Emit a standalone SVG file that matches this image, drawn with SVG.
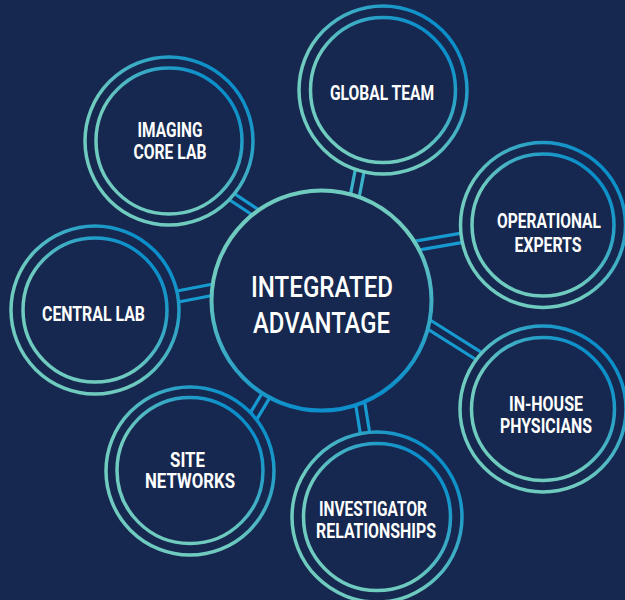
<svg xmlns="http://www.w3.org/2000/svg" width="625" height="600" viewBox="0 0 625 600">
  <defs>
    <linearGradient id="gSat" x1="0" y1="1" x2="1" y2="0">
      <stop offset="0.4" stop-color="#6fcbbf"/>
      <stop offset="0.85" stop-color="#0b8fca"/>
    </linearGradient>
    <linearGradient id="gMain" x1="0.4" y1="0" x2="0.6" y2="1">
      <stop offset="0.3" stop-color="#6fcbbf"/>
      <stop offset="0.95" stop-color="#0d8fcb"/>
    </linearGradient>
    <style>
      .ring { fill: #16284f; stroke: url(#gSat); stroke-width: 3.5; }
      .inner { fill: none; stroke: url(#gSat); stroke-width: 3.5; }
      .main { fill: #16284f; stroke: url(#gMain); stroke-width: 4; }
      .conn line { stroke: #169ad0; stroke-width: 3.2; }
      .lbl { font-family: Roboto, "Liberation Sans", sans-serif; font-weight: bold; font-size: 21px; fill: #ffffff; text-anchor: middle; }
      .big { font-family: Roboto, "Liberation Sans", sans-serif; font-weight: 500; font-size: 30px; fill: #ffffff; text-anchor: middle; }
    </style>
  </defs>
  <rect x="0" y="0" width="625" height="600" fill="#16284f"/>

  <g id="connectors" class="conn">
    <line x1="228.9" y1="190" x2="262.1" y2="212"/>
    <line x1="224.4" y1="196.5" x2="257.6" y2="218.5"/>
    <line x1="356.7" y1="162.4" x2="349.1" y2="201.6" style="stroke:#3ab3ca"/>
    <line x1="365.8" y1="162.9" x2="358.2" y2="202.1" style="stroke:#3ab3ca"/>
    <line x1="409.4" y1="242.1" x2="468.6" y2="231.9"/>
    <line x1="412.4" y1="251.1" x2="471.6" y2="240.9"/>
    <line x1="427.8" y1="318.5" x2="487" y2="355.9"/>
    <line x1="423" y1="326.1" x2="482.2" y2="363.5"/>
    <line x1="354.8" y1="399.5" x2="361.2" y2="438.9"/>
    <line x1="364" y1="397.8" x2="370.4" y2="437.2"/>
    <line x1="266.4" y1="386.2" x2="243.6" y2="423.8"/>
    <line x1="274.4" y1="390.2" x2="251.6" y2="427.8"/>
    <line x1="167.9" y1="292.8" x2="217.1" y2="283.3"/>
    <line x1="169.4" y1="303.8" x2="218.6" y2="294.3"/>
  </g>

  <g id="center">
    <circle class="main" cx="321.5" cy="300.5" r="110"/>
    <text class="big" x="322" y="297" textLength="142" lengthAdjust="spacingAndGlyphs">INTEGRATED</text>
    <text class="big" x="321.5" y="333" textLength="137" lengthAdjust="spacingAndGlyphs">ADVANTAGE</text>
  </g>

  <g id="global-team">
    <circle class="ring" cx="383" cy="90" r="84"/>
    <circle class="inner" cx="383" cy="90" r="72.5"/>
    <text class="lbl" x="382" y="100" textLength="104" lengthAdjust="spacingAndGlyphs">GLOBAL TEAM</text>
  </g>

  <g id="imaging-core-lab">
    <circle class="ring" cx="169" cy="141" r="84"/>
    <circle class="inner" cx="169" cy="141" r="73"/>
    <text class="lbl" x="170" y="137" textLength="65" lengthAdjust="spacingAndGlyphs">IMAGING</text>
    <text class="lbl" x="170" y="159" textLength="73" lengthAdjust="spacingAndGlyphs">CORE LAB</text>
  </g>

  <g id="operational-experts">
    <circle class="ring" cx="543" cy="225" r="82.5"/>
    <circle class="inner" cx="543" cy="225" r="71"/>
    <text class="lbl" x="549" y="228" textLength="104" lengthAdjust="spacingAndGlyphs">OPERATIONAL</text>
    <text class="lbl" x="548" y="252" textLength="67" lengthAdjust="spacingAndGlyphs">EXPERTS</text>
  </g>

  <g id="central-lab">
    <circle class="ring" cx="95" cy="310" r="84"/>
    <circle class="inner" cx="95" cy="310" r="72"/>
    <text class="lbl" x="93.5" y="321" textLength="103" lengthAdjust="spacingAndGlyphs">CENTRAL LAB</text>
  </g>

  <g id="in-house-physicians">
    <circle class="ring" cx="543" cy="409" r="83"/>
    <circle class="inner" cx="543" cy="409" r="71.5"/>
    <text class="lbl" x="546" y="411" textLength="74" lengthAdjust="spacingAndGlyphs">IN-HOUSE</text>
    <text class="lbl" x="546" y="433" textLength="92" lengthAdjust="spacingAndGlyphs">PHYSICIANS</text>
  </g>

  <g id="site-networks">
    <circle class="ring" cx="190" cy="471" r="84"/>
    <circle class="inner" cx="190" cy="470.5" r="73"/>
    <text class="lbl" x="187.5" y="467" textLength="35" lengthAdjust="spacingAndGlyphs">SITE</text>
    <text class="lbl" x="190" y="488" textLength="90" lengthAdjust="spacingAndGlyphs">NETWORKS</text>
  </g>

  <g id="investigator-relationships">
    <circle class="ring" cx="377" cy="517" r="85"/>
    <circle class="inner" cx="377" cy="517" r="73.5"/>
    <text class="lbl" x="373" y="516" textLength="108" lengthAdjust="spacingAndGlyphs">INVESTIGATOR</text>
    <text class="lbl" x="376" y="538" textLength="120" lengthAdjust="spacingAndGlyphs">RELATIONSHIPS</text>
  </g>
</svg>
